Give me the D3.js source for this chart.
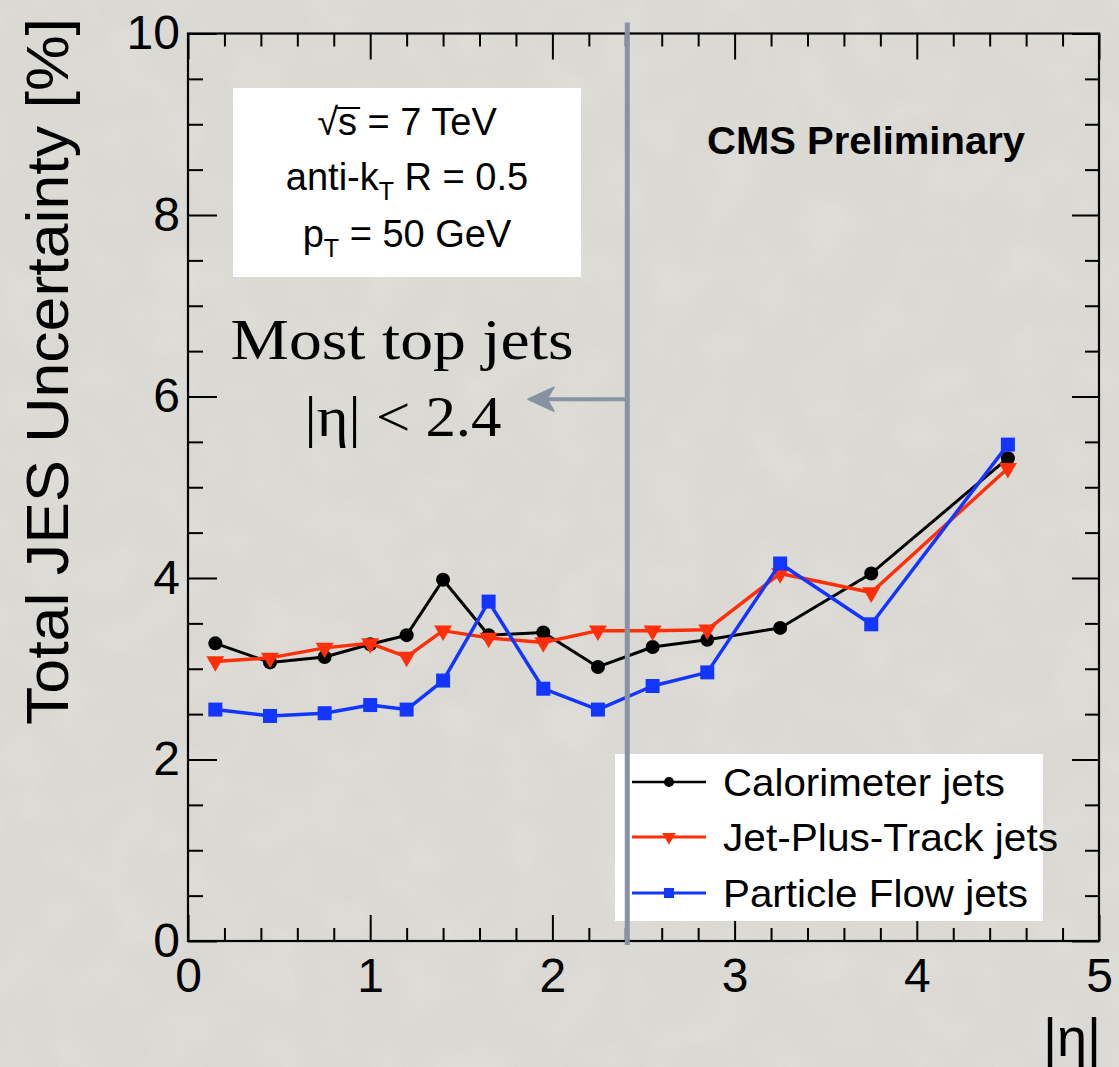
<!DOCTYPE html>
<html>
<head>
<meta charset="utf-8">
<script src="https://cdn.jsdelivr.net/npm/d3@7/dist/d3.min.js"></script>
<style>
  html, body { margin: 0; padding: 0; background: #dcdad4; }
  svg { display: block; }
</style>
</head>
<body>
<script>
// |eta| bin centres
const eta = [0.15, 0.45, 0.75, 1.0, 1.2, 1.4, 1.65, 1.95, 2.25, 2.55, 2.85, 3.25, 3.75, 4.5];

// Total JES uncertainty [%] per jet type
const caloJets = [3.28, 3.07, 3.13, 3.27, 3.37, 3.98, 3.37, 3.40, 3.02, 3.24, 3.32, 3.45, 4.05, 5.32];
const jptJets  = [3.08, 3.12, 3.23, 3.28, 3.13, 3.42, 3.34, 3.29, 3.42, 3.42, 3.43, 4.05, 3.84, 5.21];
const pfJets   = [2.55, 2.48, 2.51, 2.60, 2.55, 2.87, 3.74, 2.78, 2.55, 2.81, 2.96, 4.16, 3.49, 5.47];

const seriesNames = ["Calorimeter jets", "Jet-Plus-Track jets", "Particle Flow jets"];
const xTickLabels = [0, 1, 2, 3, 4, 5];
const yTickLabels = [0, 2, 4, 6, 8, 10];

// Tracker acceptance boundary used for top-quark jets
const etaCut = 2.4;
const arrowLevel = 5.97;

const W = 1119, H = 1067;
const svg = d3.select("body").append("svg").attr("width", W).attr("height", H);

// paper grain
const defs = svg.append("defs");
const grain = defs.append("filter").attr("id", "grain")
  .attr("x", 0).attr("y", 0).attr("width", "100%").attr("height", "100%");
grain.append("feTurbulence").attr("type", "fractalNoise")
  .attr("baseFrequency", 0.9).attr("numOctaves", 3).attr("seed", 7).attr("result", "n");
grain.append("feColorMatrix").attr("in", "n").attr("type", "matrix")
  .attr("values", "0 0 0 0 0.55  0 0 0 0 0.54  0 0 0 0 0.51  0 0 0 -1.4 0.95");
const mottle = defs.append("filter").attr("id", "mottle")
  .attr("x", 0).attr("y", 0).attr("width", "100%").attr("height", "100%");
mottle.append("feTurbulence").attr("type", "fractalNoise")
  .attr("baseFrequency", 0.02).attr("numOctaves", 2).attr("seed", 3).attr("result", "m");
mottle.append("feColorMatrix").attr("in", "m").attr("type", "matrix")
  .attr("values", "0 0 0 0 1  0 0 0 0 1  0 0 0 0 0.98  0 0 0 -0.9 0.5");

svg.append("rect").attr("width", W).attr("height", H).attr("fill", "#dcdad4");
svg.append("rect").attr("width", W).attr("height", H).attr("filter", "url(#mottle)").attr("opacity", 0.35);
svg.append("rect").attr("width", W).attr("height", H).attr("filter", "url(#grain)").attr("opacity", 0.18);

const x = d3.scaleLinear().domain([0, 5]).range([188, 1099]);
const y = d3.scaleLinear().domain([0, 10]).range([941, 33.5]);

const sans = "'Liberation Sans', Arial, Helvetica, sans-serif";

// info box
const box = svg.append("g");
box.append("rect").attr("x", 233).attr("y", 88).attr("width", 348).attr("height", 189).attr("fill", "#fff");
const info = box.append("g").attr("font-family", sans).attr("font-size", 38).attr("fill", "#000")
  .attr("text-anchor", "middle");
const l1 = info.append("text").attr("x", 407).attr("y", 135).text("\u221As = 7 TeV");
// radical bar over the s
const b1 = l1.node().getBBox();
box.append("line").attr("x1", b1.x + 20).attr("x2", b1.x + 43)
  .attr("y1", b1.y + 7).attr("y2", b1.y + 7).attr("stroke", "#000").attr("stroke-width", 2);
const l2 = info.append("text").attr("x", 407).attr("y", 190);
l2.append("tspan").text("anti-k");
l2.append("tspan").attr("font-size", 25).attr("dy", 10).text("T");
l2.append("tspan").attr("dy", -10).text(" R = 0.5");
const l3 = info.append("text").attr("x", 407).attr("y", 247);
l3.append("tspan").text("p");
l3.append("tspan").attr("font-size", 25).attr("dy", 10).text("T");
l3.append("tspan").attr("dy", -10).text(" = 50 GeV");

// CMS label
svg.append("text").attr("x", 866).attr("y", 154).attr("text-anchor", "middle")
  .attr("font-family", sans).attr("font-weight", "bold").attr("font-size", 38)
  .attr("textLength", 318).attr("lengthAdjust", "spacingAndGlyphs").text("CMS Preliminary");

// axes: major + minor ticks on all four sides
function styleAxis(g) {
  g.select(".domain").remove();
  g.selectAll(".tick line").attr("stroke", "#000").attr("stroke-width", 2);
  g.selectAll(".tick text").attr("font-family", sans).attr("font-size", 48).attr("fill", "#000");
}
const xMajor = d3.range(0, 5.001, 1);
const xMinor = d3.range(0, 5.001, 0.2).filter(v => Math.abs(v - Math.round(v)) > 1e-6);
const yMajor = d3.range(0, 10.001, 2);
const yMinor = d3.range(0, 10.001, 0.5).filter(v => Math.abs(v / 2 - Math.round(v / 2)) > 1e-6);

svg.append("g").attr("transform", `translate(0,${y(0)})`)
  .call(d3.axisBottom(x).tickValues(xTickLabels).tickSize(-26).tickSizeOuter(0).tickPadding(17).tickFormat(d3.format("d")))
  .call(styleAxis);
svg.append("g").attr("transform", `translate(0,${y(0)})`)
  .call(d3.axisBottom(x).tickValues(xMinor).tickSize(-13).tickSizeOuter(0).tickFormat(""))
  .call(styleAxis);
svg.append("g").attr("transform", `translate(0,${y(10)})`)
  .call(d3.axisTop(x).tickValues(xMajor).tickSize(-26).tickSizeOuter(0).tickFormat(""))
  .call(styleAxis);
svg.append("g").attr("transform", `translate(0,${y(10)})`)
  .call(d3.axisTop(x).tickValues(xMinor).tickSize(-13).tickSizeOuter(0).tickFormat(""))
  .call(styleAxis);
svg.append("g").attr("transform", `translate(${x(0)},0)`)
  .call(d3.axisLeft(y).tickValues(yTickLabels).tickSize(-29).tickSizeOuter(0).tickPadding(8).tickFormat(d3.format("d")))
  .call(styleAxis);
svg.append("g").attr("transform", `translate(${x(0)},0)`)
  .call(d3.axisLeft(y).tickValues(yMinor).tickSize(-15).tickSizeOuter(0).tickFormat(""))
  .call(styleAxis);
svg.append("g").attr("transform", `translate(${x(5)},0)`)
  .call(d3.axisRight(y).tickValues(yMajor).tickSize(-27).tickSizeOuter(0).tickFormat(""))
  .call(styleAxis);
svg.append("g").attr("transform", `translate(${x(5)},0)`)
  .call(d3.axisRight(y).tickValues(yMinor).tickSize(-14).tickSizeOuter(0).tickFormat(""))
  .call(styleAxis);

// frame
svg.append("rect").attr("x", x(0)).attr("y", y(10)).attr("width", x(5) - x(0)).attr("height", y(0) - y(10))
  .attr("fill", "none").attr("stroke", "#000").attr("stroke-width", 2.2);

// axis titles
svg.append("text").attr("transform", `translate(68,${(18 + 725) / 2}) rotate(-90)`)
  .attr("text-anchor", "middle").attr("font-family", sans).attr("font-size", 60)
  .attr("textLength", 707).attr("lengthAdjust", "spacingAndGlyphs")
  .text("Total JES Uncertainty [%]");
svg.append("text").attr("x", 1101).attr("y", 1056).attr("text-anchor", "end")
  .attr("font-family", sans).attr("font-size", 54).text("|\u03B7|");

// data series
const series = [
  { name: seriesNames[0], values: caloJets, color: "#000000", lw: 3.0, marker: "circle" },
  { name: seriesNames[1], values: jptJets,  color: "#ff2f0a", lw: 3.5, marker: "tri" },
  { name: seriesNames[2], values: pfJets,   color: "#1236ff", lw: 3.5, marker: "square" }
];
const symbolFor = {
  circle: d3.symbol().type(d3.symbolCircle).size(Math.PI * 7 * 7),
  square: d3.symbol().type(d3.symbolSquare).size(14 * 14),
  tri: d3.symbol().type(d3.symbolTriangle).size(140)
};
const line = d3.line().x(d => x(d[0])).y(d => y(d[1]));

const plot = svg.append("g");
series.forEach(s => {
  const pts = eta.map((e, i) => [e, s.values[i]]);
  plot.append("path").datum(pts).attr("d", line).attr("fill", "none")
    .attr("stroke", s.color).attr("stroke-width", s.lw).attr("stroke-linejoin", "round");
  plot.selectAll(null).data(pts).enter().append("path")
    .attr("d", symbolFor[s.marker])
    .attr("transform", d => `translate(${x(d[0])},${y(d[1])})` + (s.marker === "tri" ? " rotate(180)" : ""))
    .attr("fill", s.color);
});

// legend
const leg = svg.append("g");
leg.append("rect").attr("x", 615).attr("y", 754).attr("width", 428).attr("height", 167).attr("fill", "#fff");
const legRows = [782, 837, 893];
const legLen = [282, 335, 305];
series.forEach((s, i) => {
  const yy = legRows[i];
  leg.append("line").attr("x1", 632).attr("x2", 706).attr("y1", yy).attr("y2", yy)
    .attr("stroke", s.color).attr("stroke-width", s.lw - 0.5);
  leg.append("path").attr("d", symbolFor[s.marker])
    .attr("transform", `translate(669,${yy})` + (s.marker === "tri" ? " rotate(180) scale(0.75)" : " scale(0.72)"))
    .attr("fill", s.color);
  leg.append("text").attr("x", 723).attr("y", yy + 14).attr("font-family", sans).attr("font-size", 39)
    .attr("textLength", legLen[i]).attr("lengthAdjust", "spacingAndGlyphs").text(s.name);
});

// acceptance line and arrow
const grey = "#8793a2";
svg.append("line").attr("x1", x(etaCut) + 2).attr("x2", x(etaCut) + 2)
  .attr("y1", y(10) - 11).attr("y2", y(0) + 4)
  .attr("stroke", grey).attr("stroke-width", 5);
const ay = y(arrowLevel);
svg.append("line").attr("x1", x(etaCut) + 2).attr("x2", 545).attr("y1", ay).attr("y2", ay)
  .attr("stroke", grey).attr("stroke-width", 4);
svg.append("path")
  .attr("d", `M528,${ay} L554,${ay - 12} L547,${ay} L554,${ay + 12} Z`)
  .attr("fill", grey).attr("stroke", grey).attr("stroke-width", 1.5).attr("stroke-linejoin", "round");

// annotation
const serif = "'Liberation Serif', 'Times New Roman', serif";
svg.append("text").attr("x", 402).attr("y", 359).attr("text-anchor", "middle")
  .attr("font-family", serif).attr("font-size", 57)
  .attr("textLength", 343).attr("lengthAdjust", "spacingAndGlyphs").text("Most top jets");
svg.append("text").attr("x", 403).attr("y", 436).attr("text-anchor", "middle")
  .attr("font-family", serif).attr("font-size", 57)
  .attr("textLength", 197).attr("lengthAdjust", "spacingAndGlyphs").text("|\u03B7| < 2.4");
</script>
</body>
</html>
